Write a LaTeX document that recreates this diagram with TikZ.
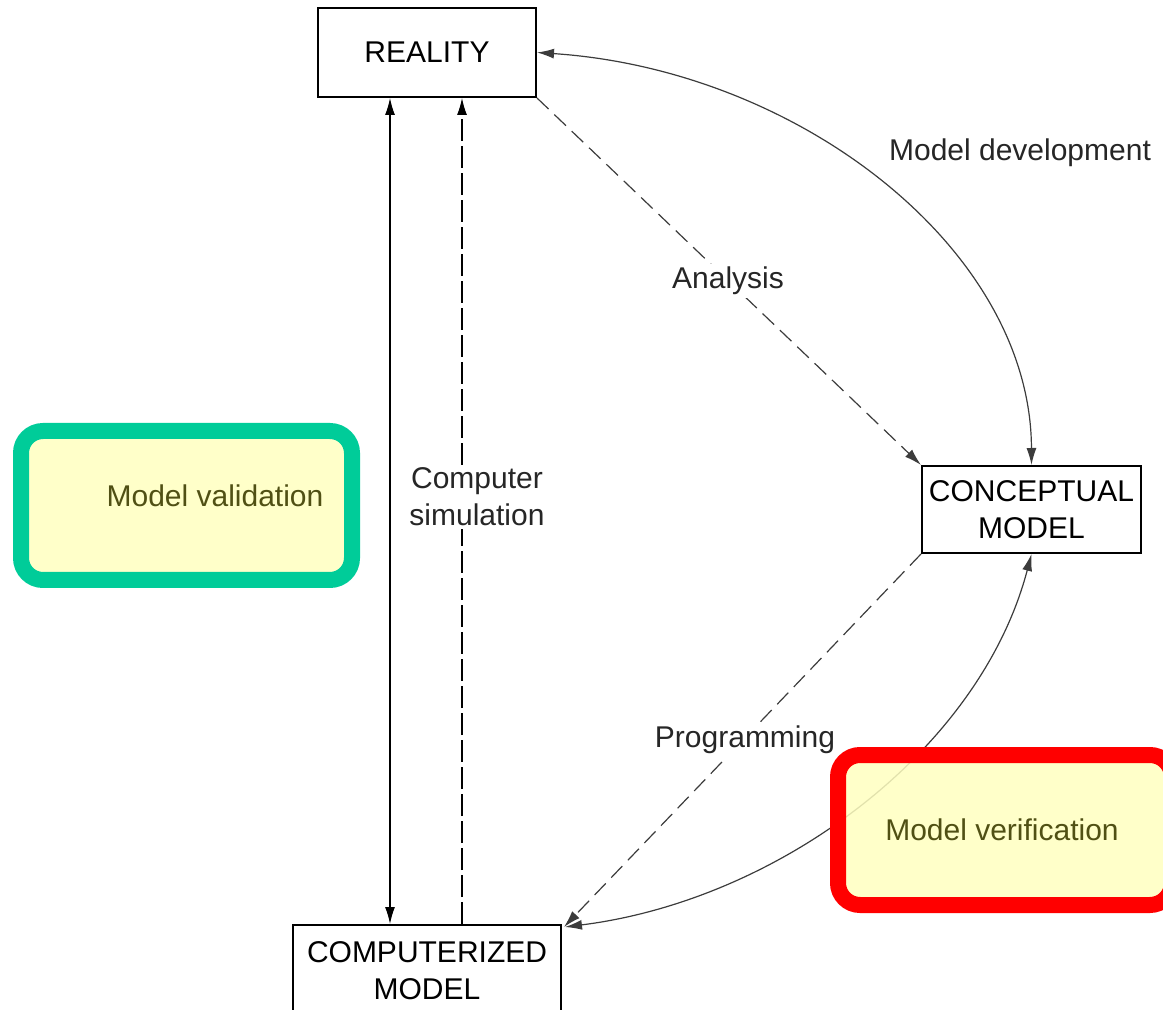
\documentclass[tikz,border=0pt]{standalone}
\usepackage{fontspec}
\setmainfont{Liberation Sans}
\usetikzlibrary{arrows.meta}
\definecolor{notefill}{RGB}{255,255,192}
\definecolor{notetext}{RGB}{80,80,20}
\definecolor{greenframe}{RGB}{0,204,153}
\definecolor{redframe}{RGB}{255,0,0}
\definecolor{linegray}{RGB}{60,60,60}
\tikzset{
  mbox/.style={draw=black, line width=1pt, fill=white, inner sep=0pt, align=center,
    font=\fontsize{15pt}{18.5pt}\selectfont},
  lbl/.style={fill=white, inner sep=1.5pt, align=center, text=black!85,
    font=\fontsize{15pt}{18.5pt}\selectfont},
  notetxt/.style={inner sep=0pt, text=notetext, font=\fontsize{15pt}{18pt}\selectfont},
  tip/.style={-{Latex[length=8.5pt,width=5pt]}},
  tips/.style={{Latex[length=8.5pt,width=5pt]}-{Latex[length=8.5pt,width=5pt]}},
  conn/.style={line width=0.6pt, draw=linegray},
  dashA/.style={dash pattern=on 8pt off 4pt},
  dashB/.style={dash pattern=on 11pt off 2.5pt},
  note/.style={line width=8pt, rounded corners=11pt, fill=notefill, fill opacity=0.85, draw opacity=1}
}
\begin{document}
\begin{tikzpicture}[x=0.5pt,y=-0.5pt]
\clip (0,0) rectangle (1163,1010);
\useasboundingbox (0,0) rectangle (1163,1010);

% boxes
\node[mbox, minimum width=109pt, minimum height=44.5pt] (R) at (427,52.5) {REALITY};
\node[mbox, minimum width=109.5pt, minimum height=43.5pt] (K) at (1031.5,509.5) {CONCEPTUAL\\MODEL};
\node[mbox, minimum width=134pt, minimum height=46pt] (C) at (427,971) {COMPUTERIZED\\MODEL};

% vertical connectors
\draw[conn, tips, draw=black] ([xshift=-18.5pt]R.south) -- ([xshift=-18.5pt]C.north);
\draw[conn, tip, dashB, draw=black] ([xshift=17.5pt]C.north) -- ([xshift=17.5pt]R.south);
\node[lbl] (sim) at (477,497) {Computer\\simulation};

% analysis
\draw[conn, tip, dashA] (R.south east) -- (K.north west);
\node[lbl] (ana) at (728,281) {Analysis};

% model development
\draw[conn, tips] (R.east) .. controls (800,70) and (1031,250) .. (K.north);
\node[lbl, fill=none] (dev) at (1020,153) {Model development};

% programming
\draw[conn, tip, dashA] (K.south west) -- ([shift={(1pt,-1.5pt)}]C.north east);
\node[lbl] (prog) at (745,740) {Programming};

% verification curve
\draw[conn, tips] ([shift={(1.5pt,-1.5pt)}]C.north east) .. controls (780,900) and (980,750) .. (K.south);

% notes
\draw[note, draw=greenframe] (21,431) rectangle (352,580);
\node[notetxt] (val) at (215,496) {Model validation};
\draw[note, draw=redframe] (838,755) rectangle (1172,905);
\node[notetxt] (ver) at (1002,830) {Model verification};
\end{tikzpicture}
\end{document}
